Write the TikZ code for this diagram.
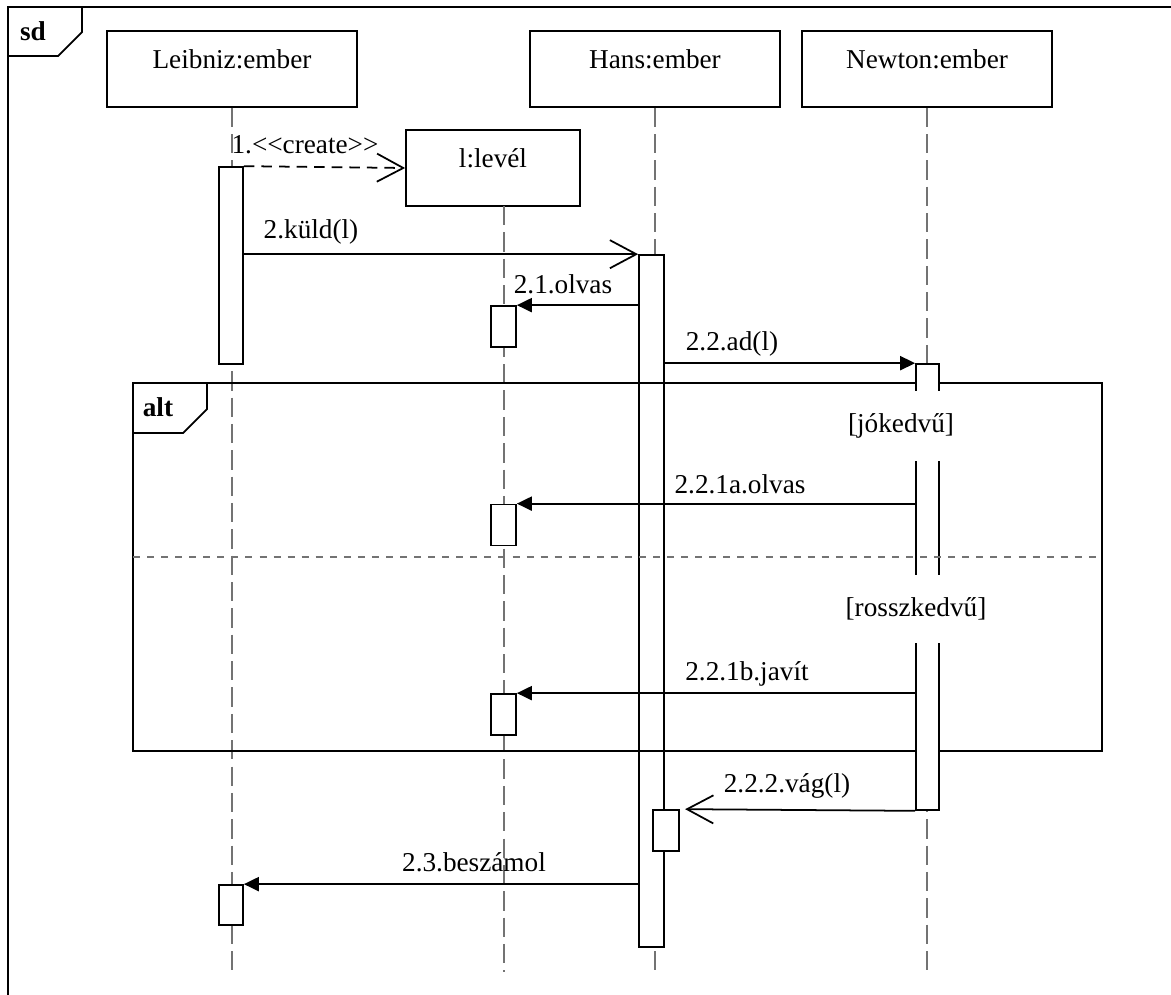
\documentclass[tikz,border=0pt]{standalone}
\usepackage{fontspec}
\setmainfont{Liberation Serif}
\usetikzlibrary{arrows.meta}

\begin{document}
\begin{tikzpicture}[
    x=0.02cm, y=-0.02cm,
    font=\fontsize{15.5}{18}\selectfont,
    every node/.style={inner sep=0pt},
    fej/.style={draw, line width=1pt, minimum width=5cm, text height=21pt, text depth=22pt},
    akt/.style={draw, line width=1pt, fill=white, minimum width=0.48cm},
    elet/.style={black!55, line width=1pt, dash pattern=on 11pt off 4pt},
    uzen/.style={line width=1pt, -{Triangle[length=8.5pt,width=8pt]}},
    nyilt/.style={line width=1pt, -{Straight Barb[length=15pt,width=16pt]}},
    orfelt/.style={fill=white, inner xsep=2pt}
]
  \useasboundingbox (0,0) rectangle (1171,995);

  % ==================== KERET (sd) ====================
  \draw[line width=1pt] (8,995) -- (8,7) -- (1171,7);
  \draw[line width=1pt] (8,56) -- (58,56) -- (82,32) -- (82,7);
  \node[font=\fontsize{15.5}{18}\selectfont\bfseries] (sd) at (33,31) {sd};

  % ==================== OBJEKTUMOK ====================
  \node[fej] (leib) at (232,69) {Leibniz:ember};
  \node[fej] (hans) at (655,69) {Hans:ember};
  \node[fej] (newt) at (927,69) {Newton:ember};
  \node[fej, minimum width=3.48cm] (lev) at (493,168) {l:levél};

  % Életvonalak
  \coordinate (leibV) at (232,977);
  \coordinate (hansV) at (655,977);
  \coordinate (newtV) at (927,977);
  \coordinate (levT) at (504,206);
  \coordinate (levV) at (504,972);
  \draw[elet] (leib.south) -- (leibV);
  \draw[elet] (hans.south) -- (hansV);
  \draw[elet] (newt.south) -- (newtV);
  \draw[elet] (levT) -- (levV);

  % ==================== AKTIVÁCIÓK ====================
  \node[akt, minimum height=3.94cm] (leibA) at (231,265.5) {};
  \node[akt, minimum height=0.8cm] (leibB) at (231,905) {};
  \node[akt, minimum height=13.84cm, minimum width=0.5cm] (hansA) at (651.5,601) {};
  \node[akt, minimum height=0.82cm, minimum width=0.5cm] (levA) at (503.5,326.5) {};
  \node[akt, minimum height=0.82cm, minimum width=0.5cm] (levB) at (503.5,525) {};
  \node[akt, minimum height=0.82cm, minimum width=0.5cm] (levC) at (503.5,714.5) {};
  \node[akt, minimum height=0.82cm, minimum width=0.52cm] (hansB) at (666,830.5) {};

  % ==================== ALT FRAGMENS ====================
  \draw[line width=1pt] (133,383) rectangle (1102,751);
  \draw[line width=1pt] (133,433) -- (183,433) -- (207,409) -- (207,383);
  \node[font=\fontsize{15.5}{18}\selectfont\bfseries] (alt) at (158,407) {alt};

  \node[akt, minimum height=8.92cm, minimum width=0.46cm] (newtA) at (927.5,587) {};

  % Elválasztó
  \draw[black!55, line width=1pt, dash pattern=on 4pt off 4pt] (133,557) -- (1102,557);

  % Feltételek
  \node[orfelt, minimum height=1.4cm] (jo) at (901,426) {[jókedvű]};
  \node[orfelt, minimum height=1.36cm] (rossz) at (916,609) {[rosszkedvű]};

  % ==================== ÜZENETEK ====================
  \draw[nyilt, dash pattern=on 6pt off 4pt] (leibA.north east) -- (lev.west);
  \node (m1) at (305,145) {1.<{}<create>{}>};

  \draw[nyilt] (leibA.east |- hansA.north) -- (hansA.north west);
  \node (m2) at (311,232) {2.küld(l)};

  \draw[uzen] (hansA.west |- levA.north) -- (levA.north east);
  \node (m21) at (563,284) {2.1.olvas};

  \draw[uzen] (hansA.east |- newtA.north) -- (newtA.north west);
  \node (m22) at (732,344) {2.2.ad(l)};

  \draw[uzen] (newtA.west |- levB.north) -- (levB.north east);
  \node (m221a) at (740,484) {2.2.1a.olvas};

  \draw[uzen] (newtA.west |- levC.north) -- (levC.north east);
  \node (m221b) at (747,674) {2.2.1b.javít};

  \draw[nyilt, shorten >=3pt] (newtA.south west) -- (hansB.north east);
  \node (m222) at (787,786) {2.2.2.vág(l)};

  \draw[uzen] (hansA.west |- leibB.north) -- (leibB.north east);
  \node (m23) at (474,862) {2.3.beszámol};

\end{tikzpicture}
\end{document}
